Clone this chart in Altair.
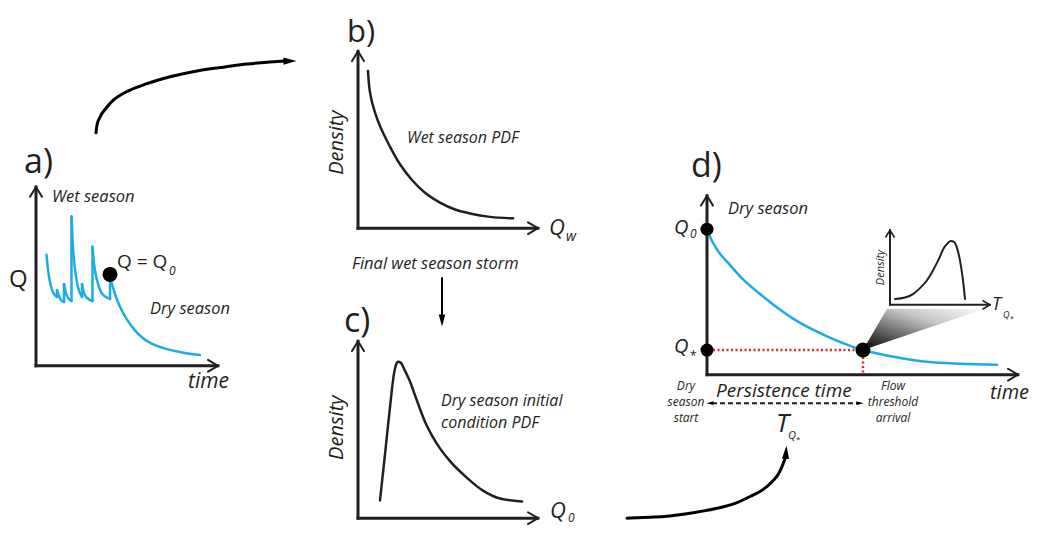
import altair as alt
import pandas as pd

INK = "#231f20"
BLUE = "#1cace4"
RED = "#e3262b"
FONT = "Open Sans"

# ---------------- values (figure pixel units) ----------------
# a) hydrograph: recession limbs after each storm
rec_x = [
    [46.5, 48, 50, 53, 57],
    [57, 59, 61, 64],
    [64, 66, 68, 71.5],
    [71.5, 73, 75, 78, 82],
    [82, 84, 87, 92.5],
    [92.5, 94, 97, 101, 106, 110],
    [110, 115, 120, 127, 135, 143, 155, 167, 185, 200],
]
rec_y = [
    [257, 272, 285, 295, 300],
    [293, 299, 303, 305],
    [287, 296, 301, 304],
    [218, 250, 272, 290, 300],
    [287, 296, 301, 304],
    [249, 266, 283, 295, 300, 302],
    [280, 297, 310, 323, 334, 342, 349, 353, 357, 359],
]
storm_x = [57, 64, 71.5, 82, 92.5, 110]
storm_lo = [300, 305, 304, 300, 304, 302]
storm_hi = [293, 287, 218, 287, 249, 280]

# b) wet season PDF
b_x = [368, 369, 371, 374, 378, 384, 391, 400, 412, 425, 440, 455, 470, 490, 513]
b_y = [70, 84, 97, 109, 121, 135, 149, 165, 181, 194, 204, 211, 215, 218.5, 220]

# c) dry season initial condition PDF
c_x = [380, 385, 390, 394, 396, 398, 401, 404, 410, 415, 420, 425, 432, 440, 450, 467, 483, 500, 522]
c_y = [507, 460, 412, 378, 369, 366, 367, 373, 386, 400, 414, 427, 441, 454, 467, 484, 497, 505, 508]

# d) dry season recession
d_x = [707, 712, 720, 727, 740, 760, 793, 827, 863, 900, 927, 960, 997]
d_y = [231, 243, 256, 264, 279, 297, 322, 340, 354, 362, 366, 368, 369]

# d) inset: persistence time PDF
i_x = [895, 905, 913, 920, 927, 933, 939, 944, 948, 951, 954, 957, 960, 963, 965]
i_y = [302, 300.5, 297, 291, 283, 273, 261, 250, 245, 243, 244, 250, 263, 283, 302]

# connecting arrows
arr1_x = [96, 97, 100, 106, 113, 125, 147, 170, 197, 225, 247, 270, 285]
arr1_y = [133, 125, 117, 108, 100, 92, 83, 76, 70, 66, 63, 61, 60]
arr2_x = [627, 650, 667, 690, 717, 735, 750, 763, 773, 779, 783, 785.5]
arr2_y = [525, 524, 523, 520, 515, 510, 503, 496, 487, 479, 470, 463]

# panel axes: origin x, origin y, top of y axis, right end of x axis
ax_x0 = [36, 358, 358, 707, 890]
ax_y0 = [370, 230, 525, 379, 308]
ax_top = [188, 50, 345, 197, 232]
ax_right = [218, 538, 538, 1018, 990]
ax_w = [3, 3, 3, 3, 2]
ax_arm = [1.0, 1.0, 1.0, 1.0, 0.7]

# markers (dots)
dot_x = [110, 707, 707, 863]
dot_y = [277, 231, 354, 354]
dot_d = [15, 13, 13, 15]

# texts
t_txt = ["a)", "b)", "c)", "d)",
         "Wet season", "Q", "Q = Q", "0", "Dry season", "time",
         "Density", "Wet season PDF", "Q", "w", "Final wet season storm",
         "Density", "Dry season initial", "condition PDF", "Q", "0",
         "Dry season", "Q", "0", "Q", "*", "Density", "T", "Q", "*", "time",
         "Dry", "season", "start", "Flow", "threshold", "arrival",
         "Persistence time", "T", "Q", "*"]
t_x = [24, 347, 344, 691,
       52, 9, 117, 169, 150, 188,
       343, 407, 549, 566, 352,
       343, 441, 441, 550, 568,
       728, 674, 690, 674, 690, 884, 992, 1003, 1010, 990,
       686, 686, 686, 893, 893, 893,
       716, 776, 788, 796]
t_y = [174, 41, 336, 178,
       203, 290, 271, 278, 317, 393,
       143, 143, 237, 243, 272,
       433, 411, 433, 525, 529,
       216, 236, 240, 357, 364, 270, 313, 321, 324, 404,
       395, 411, 427, 395, 411, 427,
       402, 437, 444, 448]
t_size = [34, 31, 34, 34,
          16.5, 24, 19, 12, 16.5, 21,
          20, 16, 22, 14, 16.5,
          20, 16, 16, 22, 12,
          16.5, 20, 12, 20, 12, 11, 18, 9, 7, 20,
          12, 12, 12, 12, 12, 12,
          19, 26, 11, 8]
t_italic = [False] * 4 + [True, False, False, True, True, True] + [True] * 10 + \
           [True, True, True, True, False, True, True, True, False, True] + [True] * 6 + \
           [True, True, True, False]
t_align = ["left"] * 10 + ["center", "left", "left", "left", "left"] + \
          ["center", "left", "left", "left", "left"] + \
          ["left"] * 5 + ["center"] + ["left"] * 4 + ["center"] * 6 + ["left"] * 4
t_angle = [0] * 10 + [270, 0, 0, 0, 0] + [270, 0, 0, 0, 0] + \
          [0] * 5 + [270] + [0] * 4 + [0] * 6 + [0] * 4

# ---------------- chart ----------------
XS = alt.Scale(domain=[8, 1037], nice=False, zero=False)
YS = alt.Scale(domain=[6, 534], nice=False, zero=False, reverse=True)


def X(f="x"):
    return alt.X(f"{f}:Q", scale=XS, axis=None)


def Y(f="y"):
    return alt.Y(f"{f}:Q", scale=YS, axis=None)


def curve_df(xs_list, ys_list):
    rows = []
    for i, (xs, ys) in enumerate(zip(xs_list, ys_list)):
        for x, y in zip(xs, ys):
            rows.append({"id": i, "x": x, "y": y})
    return pd.DataFrame(rows)


def curve(df, color, width, interp="monotone"):
    return alt.Chart(df).mark_line(color=color, strokeWidth=width, interpolate=interp,
                                   strokeCap="round", strokeJoin="round").encode(
        x=X(), y=Y(), detail="id:N")


layers = []

# gradient wedge from the threshold point to the inset
wedge = pd.DataFrame({"y": [312, 354], "xl": [887, 863], "xr": [985, 863]})
layers.append(alt.Chart(wedge).mark_area(
    orient="horizontal", interpolate="linear",
    color=alt.Gradient(gradient="linear",
                       stops=[alt.GradientStop(color="#000000", offset=0),
                              alt.GradientStop(color="#6e6e6e", offset=0.35),
                              alt.GradientStop(color="#c4c4c4", offset=0.62),
                              alt.GradientStop(color="#ffffff", offset=1)],
                       x1=0, y1=1, x2=1, y2=0)).encode(
    y=Y(), x=X("xl"), x2=alt.X2("xr")))

# axes and chevrons
ax_rows, chev_rows = [], []
for x0, y0, top, right, w, k in zip(ax_x0, ax_y0, ax_top, ax_right, ax_w, ax_arm):
    ax_rows.append({"x": x0, "y": y0, "x2": x0, "y2": top, "w": w})
    ax_rows.append({"x": x0, "y": y0, "x2": right, "y2": y0, "w": w})
    for s in (-1, 1):
        chev_rows.append({"x": x0, "y": top, "x2": x0 + s * 6 * k, "y2": top + 10 * k, "w": 2 if k == 1 else 1.6})
        chev_rows.append({"x": right, "y": y0, "x2": right - 10 * k, "y2": y0 + s * 6 * k, "w": 2 if k == 1 else 1.6})
layers.append(alt.Chart(pd.DataFrame(ax_rows)).mark_rule(color=INK, strokeCap="square").encode(
    x=X(), y=Y(), x2="x2:Q", y2="y2:Q", strokeWidth=alt.StrokeWidth("w:Q", scale=None)))
layers.append(alt.Chart(pd.DataFrame(chev_rows)).mark_rule(color=INK, strokeCap="round").encode(
    x=X(), y=Y(), x2="x2:Q", y2="y2:Q", strokeWidth=alt.StrokeWidth("w:Q", scale=None)))

# red dotted threshold guides
red = pd.DataFrame({"x": [713, 863], "y": [354, 361], "x2": [857, 863], "y2": [354, 378]})
layers.append(alt.Chart(red).mark_rule(color=RED, strokeWidth=2.5, strokeDash=[2, 2.5]).encode(
    x=X(), y=Y(), x2="x2:Q", y2="y2:Q"))

# panel a hydrograph
layers.append(curve(curve_df(rec_x, rec_y), BLUE, 2.5))
storms = pd.DataFrame({"x": storm_x, "y": storm_lo, "y2": storm_hi})
layers.append(alt.Chart(storms).mark_rule(color=BLUE, strokeWidth=2.5, strokeCap="round").encode(
    x=X(), y=Y(), y2="y2:Q"))

# panel d recession
layers.append(curve(curve_df([d_x], [d_y]), BLUE, 2.5))

# PDFs
layers.append(curve(curve_df([b_x, c_x], [b_y, c_y]), INK, 2.5))
layers.append(curve(curve_df([i_x], [i_y]), INK, 2))

# connecting arrows (shafts)
layers.append(curve(curve_df([arr1_x, arr2_x], [arr1_y, arr2_y]), "#000000", 3))
down = pd.DataFrame({"x": [442], "y": [280], "y2": [319]})
layers.append(alt.Chart(down).mark_rule(color="#000000", strokeWidth=2).encode(x=X(), y=Y(), y2="y2:Q"))

# persistence-time dashed double arrow
pers = pd.DataFrame({"x": [712], "x2": [858], "y": [408]})
layers.append(alt.Chart(pers).mark_rule(color=INK, strokeWidth=2, strokeDash=[5, 3]).encode(
    x=X(), x2="x2:Q", y=Y()))

# arrowheads
heads = pd.DataFrame({
    "x": [290, 786, 442, 710, 860],
    "y": [60, 458, 324, 408, 408],
    "ang": [90, 4, 180, 270, 90],
    "s": [169, 169, 144, 49, 49],
})
TRI = "M0,-1L0.55,1L-0.55,1Z"
layers.append(alt.Chart(heads).mark_point(shape=TRI, filled=True, color="#000000", opacity=1).encode(
    x=X(), y=Y(), angle=alt.Angle("ang:Q", scale=None), size=alt.Size("s:Q", scale=None)))

# dots
dots = pd.DataFrame({"x": dot_x, "y": dot_y, "s": [d * d for d in dot_d]})
layers.append(alt.Chart(dots).mark_point(shape="circle", filled=True, color="#000000", opacity=1).encode(
    x=X(), y=Y(), size=alt.Size("s:Q", scale=None)))

# texts
tdf = pd.DataFrame({"t": t_txt, "x": t_x, "y": t_y, "fs": t_size, "it": t_italic,
                    "al": t_align, "ang": t_angle})
for (it, al), g in tdf.groupby(["it", "al"]):
    layers.append(alt.Chart(g).mark_text(
        font=FONT, fontStyle="italic" if it else "normal", align=al, baseline="alphabetic",
        color=INK).encode(
        x=X(), y=Y(), text="t:N", size=alt.Size("fs:Q", scale=None),
        angle=alt.Angle("ang:Q", scale=None)))

chart = alt.layer(*layers).properties(
    width=1029, height=519, padding=0, autosize="none", background="white"
).configure_view(stroke=None)

chart.save("out.html", embed_options={"renderer": "svg", "actions": False})
